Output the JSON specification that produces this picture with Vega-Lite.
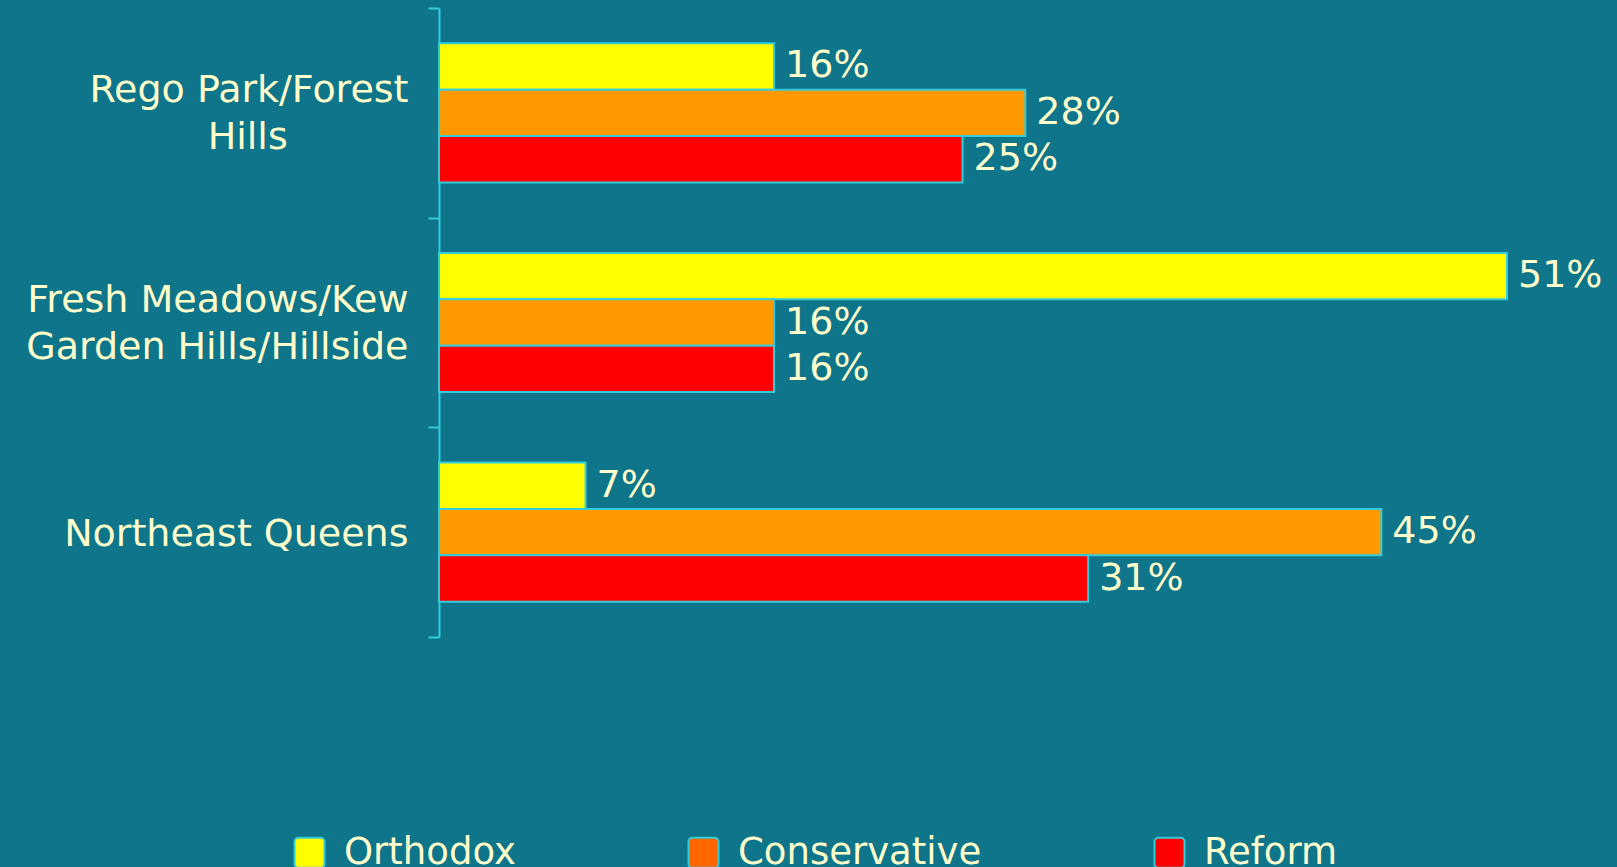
{
  "$schema": "https://vega.github.io/schema/vega-lite/v6.json",
  "width": 1068,
  "height": 629,
  "autosize": "none",
  "padding": {"left": 439, "top": 8, "right": 110, "bottom": 230},
  "background": "#0E758A",
  "config": {
    "view": {"stroke": null},
    "font": "DejaVu Sans"
  },
  "data": {
    "values": [
      {"area": "Rego Park/Forest Hills", "type": "Orthodox", "value": 16},
      {"area": "Rego Park/Forest Hills", "type": "Conservative", "value": 28},
      {"area": "Rego Park/Forest Hills", "type": "Reform", "value": 25},
      {"area": "Fresh Meadows/Kew Garden Hills/Hillside", "type": "Orthodox", "value": 51},
      {"area": "Fresh Meadows/Kew Garden Hills/Hillside", "type": "Conservative", "value": 16},
      {"area": "Fresh Meadows/Kew Garden Hills/Hillside", "type": "Reform", "value": 16},
      {"area": "Northeast Queens", "type": "Orthodox", "value": 7},
      {"area": "Northeast Queens", "type": "Conservative", "value": 45},
      {"area": "Northeast Queens", "type": "Reform", "value": 31}
    ]
  },
  "transform": [{"calculate": "datum.value + '%'", "as": "label"}],
  "encoding": {
    "y": {
      "field": "area",
      "type": "nominal",
      "sort": ["Rego Park/Forest Hills", "Fresh Meadows/Kew Garden Hills/Hillside", "Northeast Queens"],
      "scale": {"paddingInner": 0, "paddingOuter": 0},
      "axis": {
        "title": null,
        "domainColor": "#33CCDD",
        "domainWidth": 2,
        "tickColor": "#33CCDD",
        "tickWidth": 2,
        "tickSize": 11,
        "tickBand": "extent",
        "labelColor": "#FFFFCC",
        "labelFont": "DejaVu Sans",
        "labelFontSize": 38,
        "labelLineHeight": 47,
        "labelPadding": 20,
        "labelLimit": 600,
        "labelOffset": {"condition": {"test": "datum.value == 'Northeast Queens'", "value": 2}, "value": -22},
        "labelExpr": "datum.value == 'Rego Park/Forest Hills' ? ['Rego Park/Forest', 'Hills\u00a0\u00a0\u00a0\u00a0\u00a0\u00a0\u00a0\u00a0\u00a0\u00a0\u200b'] : datum.value == 'Fresh Meadows/Kew Garden Hills/Hillside' ? ['Fresh Meadows/Kew', 'Garden Hills/Hillside'] : datum.value"
      }
    },
    "yOffset": {
      "field": "type",
      "type": "nominal",
      "sort": ["Orthodox", "Conservative", "Reform"],
      "scale": {"paddingInner": 0, "paddingOuter": 0.76}
    },
    "x": {
      "field": "value",
      "type": "quantitative",
      "scale": {"domain": [0, 51], "nice": false},
      "axis": null
    }
  },
  "layer": [
    {
      "mark": {"type": "bar", "opacity": 0},
      "encoding": {
        "fill": {
          "field": "type",
          "type": "nominal",
          "sort": ["Orthodox", "Conservative", "Reform"],
          "scale": {"domain": ["Orthodox", "Conservative", "Reform"], "range": ["#FFFF00", "#FF6600", "#FF0000"]},
          "legend": {
            "title": null,
            "orient": "none",
            "direction": "horizontal",
            "legendX": -148,
            "legendY": 826,
            "padding": 0,
            "columnPadding": 168,
            "labelColor": "#FFFFCC",
            "labelFont": "DejaVu Sans",
            "labelFontSize": 37,
            "labelOffset": 16,
            "labelLimit": 400,
            "symbolType": "M-0.75,-1H0.75A0.25,0.25 0 0 1 1,-0.75V0.75A0.25,0.25 0 0 1 0.75,1H-0.75A0.25,0.25 0 0 1 -1,0.75V-0.75A0.25,0.25 0 0 1 -0.75,-1Z",
            "symbolSize": 900,
            "symbolStrokeColor": "#33CCDD",
            "symbolStrokeWidth": 2,
            "symbolOpacity": 1
          }
        }
      }
    },
    {
      "mark": {"type": "bar", "stroke": "#33CCDD", "strokeWidth": 2},
      "encoding": {
        "color": {
          "field": "type",
          "type": "nominal",
          "sort": ["Orthodox", "Conservative", "Reform"],
          "scale": {"domain": ["Orthodox", "Conservative", "Reform"], "range": ["#FFFF00", "#FF9900", "#FF0000"]},
          "legend": null
        }
      }
    },
    {
      "mark": {"type": "text", "align": "left", "baseline": "middle", "dx": 11, "fontSize": 38, "color": "#FFFFCC", "font": "DejaVu Sans"},
      "encoding": {
        "text": {"field": "label"}
      }
    }
  ]
}
